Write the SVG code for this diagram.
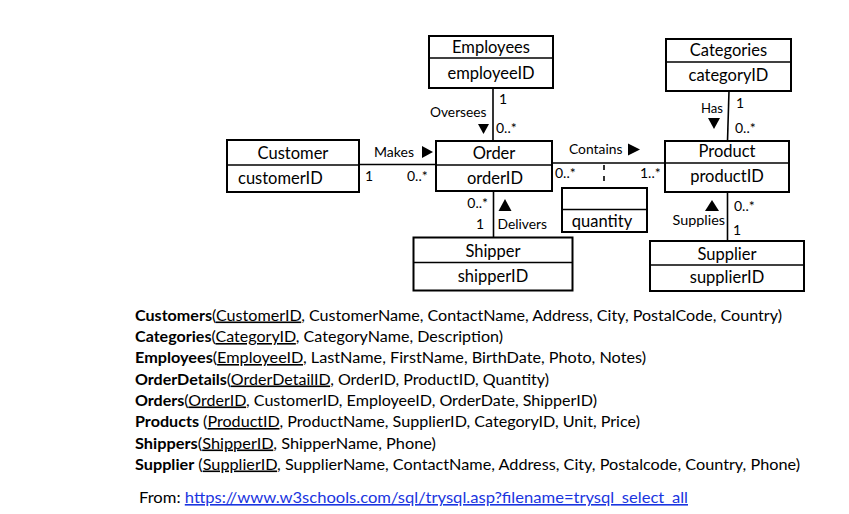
<svg xmlns="http://www.w3.org/2000/svg" width="849" height="514" viewBox="0 0 849 514">
<style>
.box{fill:#fff;stroke:#000;stroke-width:2}
.ln{stroke:#000;stroke-width:1.6;fill:none}
.t{font-family:Lato,"Open Sans",sans-serif;font-size:16.5px;fill:#000}
.c{text-anchor:middle}
.lb{font-family:Lato,"Open Sans",sans-serif;font-size:14px;fill:#000}
.r{font-family:Lato,"Open Sans",sans-serif;font-size:16px;fill:#000}
.b{font-weight:bold}
.u{text-decoration:underline}
.tri{fill:#000}
</style>
<rect width="849" height="514" fill="#fff"/>
<g id="connectors">
<line class="ln" x1="493" y1="88" x2="493" y2="141"/>
<line class="ln" x1="359" y1="164.5" x2="436" y2="164.5"/>
<line class="ln" x1="552" y1="163" x2="665" y2="163"/>
<line class="ln" x1="604" y1="163" x2="604" y2="188" stroke-dasharray="5,6" stroke-dashoffset="-2"/>
<line class="ln" x1="729" y1="91" x2="727.5" y2="141"/>
<line class="ln" x1="493.5" y1="191" x2="493.5" y2="238"/>
<line class="ln" x1="727.5" y1="192" x2="727.5" y2="241"/>
<polygon class="tri" points="478,124 489,124 483.5,134"/>
<polygon class="tri" points="422,146 422,158 433,152"/>
<polygon class="tri" points="708,118 720,118 714,129"/>
<polygon class="tri" points="628,143.5 628,155.5 640,149.5"/>
<polygon class="tri" points="498.5,211 511.5,211 505,199"/>
<polygon class="tri" points="705,211 719,211 712,200"/>
<text class="lb" x="499" y="104">1</text>
<text class="lb" x="430" y="117" textLength="56.5" lengthAdjust="spacingAndGlyphs">Oversees</text>
<text class="lb" x="496" y="133">0..*</text>
<text class="lb" x="374" y="157" textLength="40" lengthAdjust="spacingAndGlyphs">Makes</text>
<text class="lb" x="365" y="181">1</text>
<text class="lb" x="407" y="181">0..*</text>
<text class="lb" x="569" y="153.5" textLength="53.5" lengthAdjust="spacingAndGlyphs">Contains</text>
<text class="lb" x="555" y="178">0..*</text>
<text class="lb" x="640" y="178">1..*</text>
<text class="lb" x="701" y="113" textLength="22" lengthAdjust="spacingAndGlyphs">Has</text>
<text class="lb" x="736" y="107.5">1</text>
<text class="lb" x="735" y="133">0..*</text>
<text class="lb" x="488" y="208" text-anchor="end">0..*</text>
<text class="lb" x="476" y="229">1</text>
<text class="lb" x="497.5" y="229" textLength="49.5" lengthAdjust="spacingAndGlyphs">Delivers</text>
<text class="lb" x="734" y="211">0..*</text>
<text class="lb" x="672.5" y="224.5" textLength="52.5" lengthAdjust="spacingAndGlyphs">Supplies</text>
<text class="lb" x="733" y="234.5">1</text>
</g>
<g id="employees">
<rect class="box" x="429" y="36" width="124" height="52"/>
<line class="ln" x1="429" y1="58" x2="553" y2="58" stroke-width="2"/>
<text class="t c" x="491" y="53">Employees</text>
<text class="t c" x="491" y="78.5">employeeID</text>
</g>
<g id="customer">
<rect class="box" x="227" y="140" width="132" height="52"/>
<line class="ln" x1="227" y1="165" x2="359" y2="165" stroke-width="2"/>
<text class="t c" x="293" y="158.5">Customer</text>
<text class="t" x="238" y="183.5">customerID</text>
</g>
<g id="order">
<rect class="box" x="436" y="141" width="116" height="50"/>
<line class="ln" x1="436" y1="165" x2="552" y2="165" stroke-width="2"/>
<text class="t c" x="494" y="158.5">Order</text>
<text class="t c" x="495" y="183.5">orderID</text>
</g>
<g id="categories">
<rect class="box" x="666" y="39" width="125" height="52"/>
<line class="ln" x1="666" y1="62" x2="791" y2="62" stroke-width="2"/>
<text class="t c" x="728.5" y="56">Categories</text>
<text class="t c" x="728.5" y="80.5">categoryID</text>
</g>
<g id="product">
<rect class="box" x="665" y="141" width="124" height="51"/>
<line class="ln" x1="665" y1="163" x2="789" y2="163" stroke-width="2"/>
<text class="t c" x="727" y="157">Product</text>
<text class="t c" x="727" y="182">productID</text>
</g>
<g id="quantity">
<rect class="box" x="562" y="188" width="85" height="44"/>
<line class="ln" x1="562" y1="209.5" x2="647" y2="209.5" stroke-width="2"/>
<text class="t c" x="602" y="227">quantity</text>
</g>
<g id="shipper">
<rect class="box" x="413.5" y="237.5" width="159" height="53"/>
<line class="ln" x1="413.5" y1="262.5" x2="572.5" y2="262.5" stroke-width="2"/>
<text class="t c" x="493" y="256.5">Shipper</text>
<text class="t c" x="493" y="282">shipperID</text>
</g>
<g id="supplier">
<rect class="box" x="650" y="241" width="154" height="50"/>
<line class="ln" x1="650" y1="265" x2="804" y2="265" stroke-width="2"/>
<text class="t c" x="727" y="259.5">Supplier</text>
<text class="t c" x="727" y="282.5">supplierID</text>
</g>
<g id="relations">
<text class="r" x="135" y="320.5" textLength="647" lengthAdjust="spacingAndGlyphs"><tspan class="b">Customers</tspan>(<tspan class="u">CustomerID</tspan>, CustomerName, ContactName, Address, City, PostalCode, Country)</text>
<text class="r" x="135" y="342" textLength="368" lengthAdjust="spacingAndGlyphs"><tspan class="b">Categories</tspan>(<tspan class="u">CategoryID</tspan>, CategoryName, Description)</text>
<text class="r" x="135" y="363" textLength="511" lengthAdjust="spacingAndGlyphs"><tspan class="b">Employees</tspan>(<tspan class="u">EmployeeID</tspan>, LastName, FirstName, BirthDate, Photo, Notes)</text>
<text class="r" x="135" y="384.5" textLength="414" lengthAdjust="spacingAndGlyphs"><tspan class="b">OrderDetails</tspan>(<tspan class="u">OrderDetailID</tspan>, OrderID, ProductID, Quantity)</text>
<text class="r" x="135" y="405.5" textLength="462" lengthAdjust="spacingAndGlyphs"><tspan class="b">Orders</tspan>(<tspan class="u">OrderID</tspan>, CustomerID, EmployeeID, OrderDate, ShipperID)</text>
<text class="r" x="135" y="427" textLength="505" lengthAdjust="spacingAndGlyphs"><tspan class="b">Products</tspan> (<tspan class="u">ProductID</tspan>, ProductName, SupplierID, CategoryID, Unit, Price)</text>
<text class="r" x="135" y="448.5" textLength="301" lengthAdjust="spacingAndGlyphs"><tspan class="b">Shippers</tspan>(<tspan class="u">ShipperID</tspan>, ShipperName, Phone)</text>
<text class="r" x="135" y="469.5" textLength="665" lengthAdjust="spacingAndGlyphs"><tspan class="b">Supplier</tspan> (<tspan class="u">SupplierID</tspan>, SupplierName, ContactName, Address, City, Postalcode, Country, Phone)</text>
<text class="r" x="139" y="503" font-size="15" textLength="549" lengthAdjust="spacingAndGlyphs">From: <tspan class="u" fill="#1a35e0">https://www.w3schools.com/sql/trysql.asp?filename=trysql_select_all</tspan></text>
</g>
</svg>
